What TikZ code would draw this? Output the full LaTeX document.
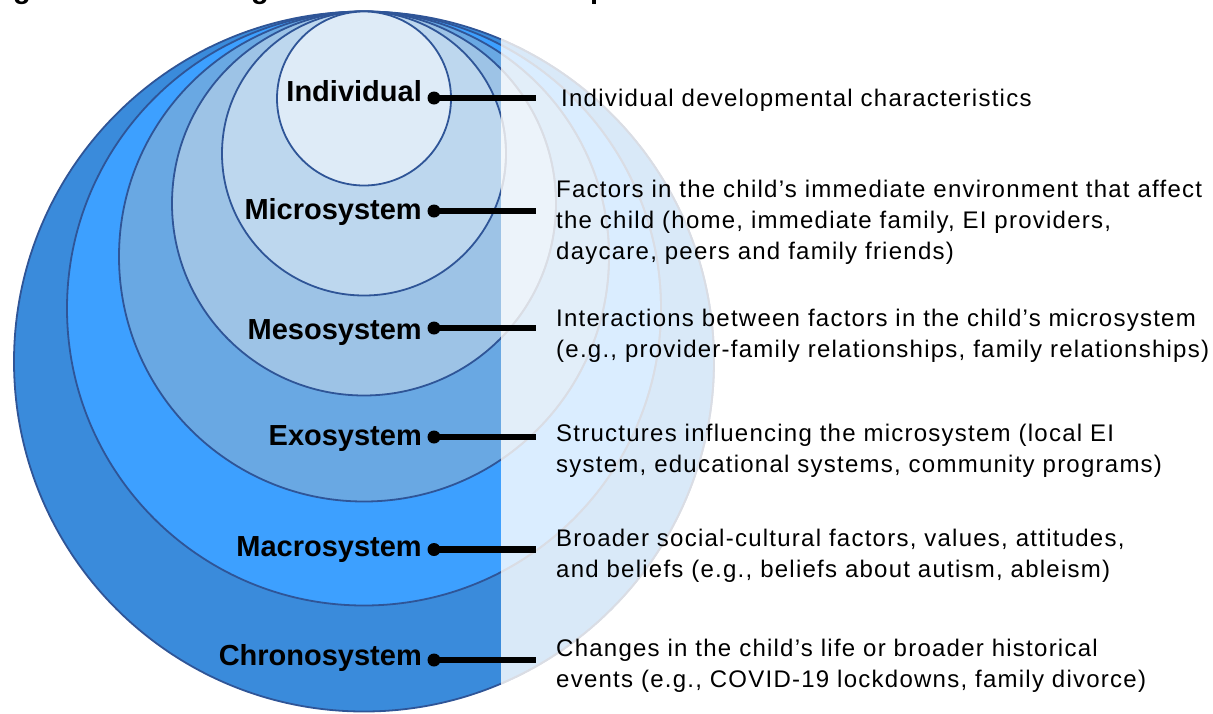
\documentclass[tikz,border=0pt]{standalone}
\usepackage{fontspec}
\setmainfont{Liberation Sans}
\newfontfamily\descfont[LetterSpace=5.2]{Liberation Sans}
\definecolor{ringline}{RGB}{47,85,151}
\definecolor{fadeline}{RGB}{218,221,228}
\definecolor{chronofill}{RGB}{58,139,219}
\definecolor{macrofill}{RGB}{61,160,255}
\definecolor{exofill}{RGB}{105,168,227}
\definecolor{mesofill}{RGB}{157,195,230}
\definecolor{microfill}{RGB}{189,215,238}
\definecolor{indivfill}{RGB}{222,235,247}
\begin{document}
\begin{tikzpicture}[x=1pt,y=-1pt,
  ring/.style={draw=ringline, line width=1.8pt},
  fadering/.style={draw=fadeline, line width=1.8pt},
  lvl/.style={font=\bfseries\fontsize{29}{34}\selectfont, anchor=base east, inner sep=0pt},
  desc/.style={font=\descfont\fontsize{24}{31}\selectfont, anchor=base west, inner sep=0pt},
  pin/.style={circle, fill=black, inner sep=0pt, minimum size=13pt},
  leader/.style={line width=6.5pt},
  titlefrag/.style={font=\bfseries\fontsize{29}{34}\selectfont, anchor=base west, inner sep=0pt}]
\useasboundingbox (0,0) rectangle (1213,713);

% nested system circles, all touching at the top
\draw[ring, fill=chronofill] (364,361.5) circle[radius=350];
\draw[ring, fill=macrofill]  (364,308.5) circle[radius=297];
\draw[ring, fill=exofill]    (364,256.5) circle[radius=245];
\draw[ring, fill=mesofill]   (364,203.5) circle[radius=192];
\draw[ring, fill=microfill]  (364,153.5) circle[radius=142];
\draw[ring, fill=indivfill]  (364,98.5)  circle[radius=87];

% faded right half with pale outlines
\fill[white, opacity=0.81] (501,0) rectangle (1213,713);
\begin{scope}
  \clip (501,0) rectangle (1213,713);
  \draw[fadering] (364,361.5) circle[radius=350];
  \draw[fadering] (364,308.5) circle[radius=297];
  \draw[fadering] (364,256.5) circle[radius=245];
  \draw[fadering] (364,203.5) circle[radius=192];
  \draw[fadering] (364,153.5) circle[radius=142];
\end{scope}

% descenders of the heading line above the figure
\node[titlefrag] (tg1) at (13,-1.5) {g};
\node[titlefrag] (tg2) at (251,-1.5) {g};
\node[titlefrag] (tp1) at (590,-1.5) {p};

% level labels with leader lines
\node[lvl] (l1) at (422,101.7) {Individual};
\node[lvl] (l2) at (422,219)   {Microsystem};
\node[lvl] (l3) at (422,339)   {Mesosystem};
\node[lvl] (l4) at (422,445)   {Exosystem};
\node[lvl] (l5) at (422,556.7) {Macrosystem};
\node[lvl] (l6) at (422,665.7) {Chronosystem};

\node[pin] (d1) at (434,98)  {};
\node[pin] (d2) at (434,211) {};
\node[pin] (d3) at (434,328) {};
\node[pin] (d4) at (434,437) {};
\node[pin] (d5) at (434,549.5) {};
\node[pin] (d6) at (434,660) {};

\coordinate (e1) at (536,98);
\coordinate (e2) at (536,211);
\coordinate (e3) at (536,328);
\coordinate (e4) at (536,437);
\coordinate (e5) at (536,549.5);
\coordinate (e6) at (536,660);

\draw[leader] (d1.center) -- (e1);
\draw[leader] (d2.center) -- (e2);
\draw[leader] (d3.center) -- (e3);
\draw[leader] (d4.center) -- (e4);
\draw[leader] (d5.center) -- (e5);
\draw[leader] (d6.center) -- (e6);

% descriptions
\node[desc] (t1) at (561,106.7) {Individual developmental characteristics};
\node[desc] (t2) at (556,197.3) {\begin{tabular}[t]{@{}l@{}}Factors in the child’s immediate environment that affect\\the child (home, immediate family, EI providers,\\daycare, peers and family friends)\end{tabular}};
\node[desc] (t3) at (556,326.7) {\begin{tabular}[t]{@{}l@{}}Interactions between factors in the child’s microsystem\\(e.g., provider-family relationships, family relationships)\end{tabular}};
\node[desc] (t4) at (556,441.7) {\begin{tabular}[t]{@{}l@{}}Structures influencing the microsystem (local EI\\system, educational systems, community programs)\end{tabular}};
\node[desc] (t5) at (556,546) {\begin{tabular}[t]{@{}l@{}}Broader social-cultural factors, values, attitudes,\\and beliefs (e.g., beliefs about autism, ableism)\end{tabular}};
\node[desc] (t6) at (556,656.7) {\begin{tabular}[t]{@{}l@{}}Changes in the child’s life or broader historical\\events (e.g., COVID-19 lockdowns, family divorce)\end{tabular}};
\end{tikzpicture}
\end{document}
